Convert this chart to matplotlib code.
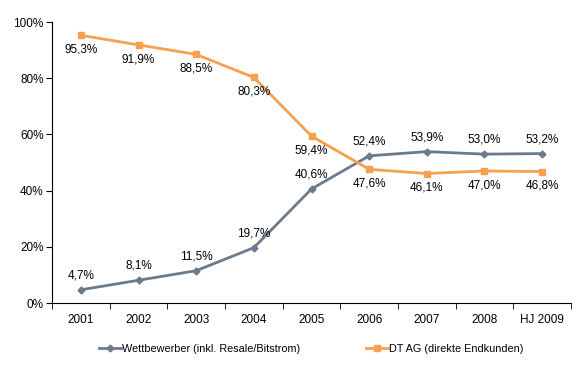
import matplotlib.pyplot as plt
import numpy as np

plt.rcParams['font.family'] = ['Liberation Sans', 'DejaVu Sans']

years = ['2001', '2002', '2003', '2004', '2005', '2006', '2007', '2008', 'HJ 2009']
wettbewerber = [4.7, 8.1, 11.5, 19.7, 40.6, 52.4, 53.9, 53.0, 53.2]
dt_ag = [95.3, 91.9, 88.5, 80.3, 59.4, 47.6, 46.1, 47.0, 46.8]

grey = '#6B7B8E'
orange = '#F8A04E'

fig = plt.figure(figsize=(5.85, 3.75), dpi=100)
ax = fig.add_axes([0.089, 0.192, 0.887, 0.749])

x = np.arange(len(years))
ax.plot(x, wettbewerber, color=grey, lw=2, marker='D', ms=3.5,
        label='Wettbewerber (inkl. Resale/Bitstrom)')
ax.plot(x, dt_ag, color=orange, lw=2, marker='s', ms=5,
        label='DT AG (direkte Endkunden)')

def fmt(v):
    return f'{v:.1f}%'.replace('.', ',')

for xi, v in zip(x, wettbewerber):
    ax.annotate(fmt(v), (xi, v), xytext=(0, 6), textcoords='offset points',
                ha='center', va='bottom', fontsize=8.5)
for xi, v in zip(x, dt_ag):
    ax.annotate(fmt(v), (xi, v), xytext=(0, -6), textcoords='offset points',
                ha='center', va='top', fontsize=8.5)

ax.set_xlim(-0.5, len(years) - 0.5)
ax.set_ylim(0, 100)
ax.set_yticks(np.arange(0, 101, 20))
ax.set_yticklabels([f'{t}%' for t in range(0, 101, 20)], fontsize=8.5)
ax.set_xticks(x)
ax.set_xticklabels(years, fontsize=8.5)
ax.tick_params(axis='x', length=0, pad=8)
ax.set_xticks(np.arange(-0.5, len(years), 1), minor=True)
ax.tick_params(axis='x', which='minor', length=4, direction='out')
ax.tick_params(axis='y', length=4, direction='out', pad=2)
ax.spines['top'].set_visible(False)
ax.spines['right'].set_visible(False)

fig.legend(loc='center', bbox_to_anchor=(0.532, 0.069), ncol=2, frameon=False,
           fontsize=7.8, handlelength=2.0, handletextpad=0.1, columnspacing=6.1)

fig.savefig('out.png', dpi=100)
